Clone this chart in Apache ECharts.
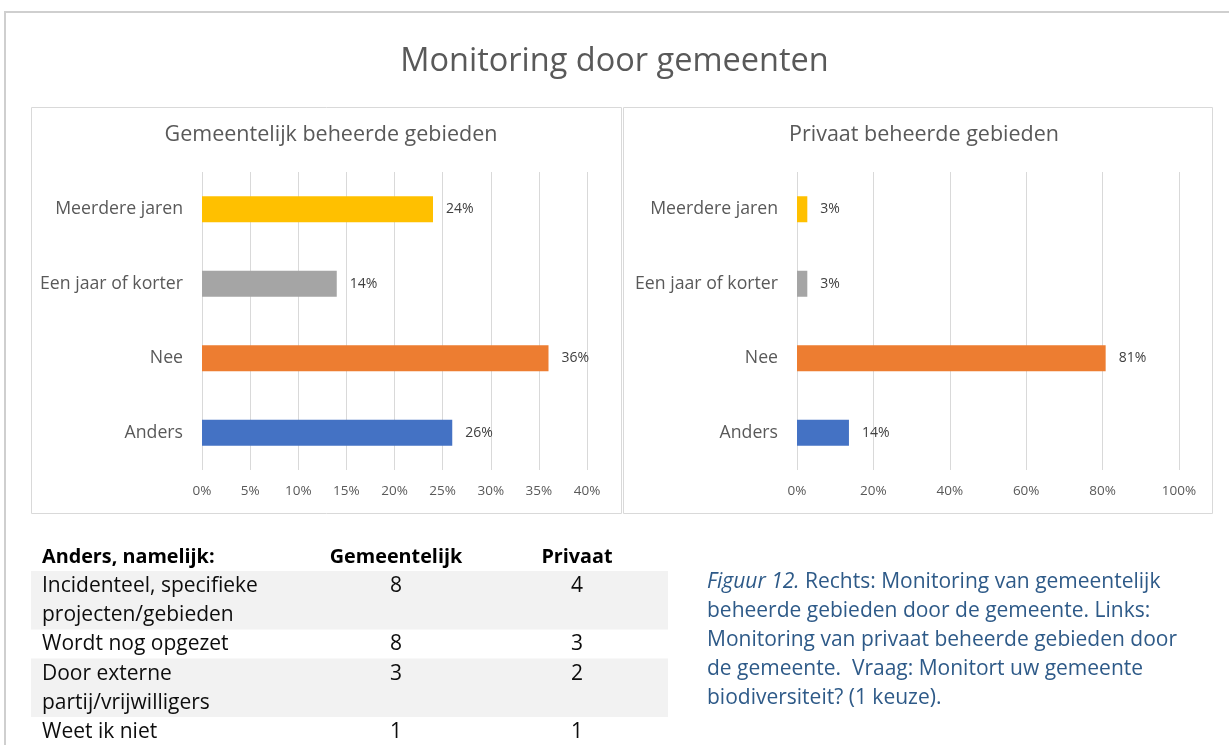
<!DOCTYPE html>
<html>
<head>
<meta charset="utf-8">
<script src="https://cdn.jsdelivr.net/npm/echarts@6/dist/echarts.min.js"></script>
<style>
  html, body { margin: 0; padding: 0; background: #fff; }
  #chart { width: 1229px; height: 745px; }
</style>
</head>
<body>
<div id="chart"></div>
<script>
  // categorieen (van boven naar beneden)
  const categories = ['Meerdere jaren', 'Een jaar of korter', 'Nee', 'Anders']
  const barColors = ['#FFC000', '#A5A5A5', '#ED7D31', '#4472C4']
  // percentages
  const gemeentelijk = [24, 14, 36, 26]
  const privaat = [2.7, 2.7, 80.8, 13.6]

  // tabel "Anders, namelijk"
  const tableHeader = ['Anders, namelijk:', 'Gemeentelijk', 'Privaat']
  const tableLabels = [
    ['Incidenteel, specifieke', 'projecten/gebieden'],
    ['Wordt nog opgezet'],
    ['Door externe', 'partij/vrijwilligers'],
    ['Weet ik niet']
  ]
  const tableGem = [8, 8, 3, 1]
  const tablePriv = [4, 3, 2, 1]

  const captionLines = [
    ['Figuur 12.', ' Rechts: Monitoring van gemeentelijk'],
    ['', 'beheerde gebieden door de gemeente. Links:'],
    ['', 'Monitoring van privaat beheerde gebieden door'],
    ['', 'de gemeente.  Vraag: Monitort uw gemeente'],
    ['', 'biodiversiteit? (1 keuze).']
  ]

  const FONT = 'Open Sans'
  const GREY = '#595959'

  let graphic = [
    // buitenrand
    { type: 'rect', shape: { x: 5, y: 12, width: 1240, height: 800 },
      style: { fill: 'none', stroke: '#cfcfcf', lineWidth: 2 }, silent: true },
    // panelen
    { type: 'rect', shape: { x: 31.5, y: 107.5, width: 590, height: 406 },
      style: { fill: 'none', stroke: '#d9d9d9', lineWidth: 1 }, silent: true },
    { type: 'rect', shape: { x: 623.5, y: 107.5, width: 589, height: 406 },
      style: { fill: 'none', stroke: '#d9d9d9', lineWidth: 1 }, silent: true }
  ]

  // tabel opbouwen
  const rowH = 29.2
  const tFont = '21px ' + FONT
  const hFont = 'bold 19.8px ' + FONT
  let y = 571
  graphic.push({ type: 'text', x: 42, y: 557,
    style: { text: tableHeader[0], font: hFont, fill: '#000', verticalAlign: 'middle' } })
  graphic.push({ type: 'text', x: 396, y: 557,
    style: { text: tableHeader[1], font: hFont, fill: '#000', align: 'center', verticalAlign: 'middle' } })
  graphic.push({ type: 'text', x: 577, y: 557,
    style: { text: tableHeader[2], font: hFont, fill: '#000', align: 'center', verticalAlign: 'middle' } })
  tableLabels.forEach((lines, i) => {
    const h = lines.length * rowH
    if (i % 2 === 0) {
      graphic.push({ type: 'rect', shape: { x: 31, y: y, width: 637, height: h },
        style: { fill: '#f2f2f2' }, silent: true })
    }
    lines.forEach((t, j) => {
      graphic.push({ type: 'text', x: 42, y: y + 15 + j * rowH,
        style: { text: t, font: tFont, fill: '#0d0d0d', verticalAlign: 'middle' } })
    })
    graphic.push({ type: 'text', x: 396, y: y + 15,
      style: { text: String(tableGem[i]), font: tFont, fill: '#0d0d0d', align: 'center', verticalAlign: 'middle' } })
    graphic.push({ type: 'text', x: 577, y: y + 15,
      style: { text: String(tablePriv[i]), font: tFont, fill: '#0d0d0d', align: 'center', verticalAlign: 'middle' } })
    y += h
  })

  // bijschrift
  captionLines.forEach((l, i) => {
    graphic.push({ type: 'text', x: 707, y: 582.5 + i * 28.8,
      style: {
        text: (l[0] ? '{it|' + l[0] + '}' : '') + l[1],
        font: '21px ' + FONT, fill: '#2E5A88', verticalAlign: 'middle',
        rich: { it: { fontStyle: 'italic', fontSize: 21, fontFamily: FONT, fill: '#2E5A88' } }
      } })
  })

  const pctLabel = {
    show: true, position: 'right', distance: 13,
    color: '#404040', fontSize: 14, fontFamily: FONT,
    formatter: p => Math.round(p.value) + '%'
  }

  const option = {
    animation: false,
    textStyle: { fontFamily: FONT },
    title: [
      { text: 'Monitoring door gemeenten', left: 'center', top: 40,
        textStyle: { fontSize: 32.5, fontWeight: 'normal', color: GREY, fontFamily: FONT } },
      { text: 'Gemeentelijk beheerde gebieden', left: 326, top: 119, textAlign: 'center',
        textStyle: { fontSize: 21.5, fontWeight: 'normal', color: GREY, fontFamily: FONT } },
      { text: 'Privaat beheerde gebieden', left: 919, top: 119, textAlign: 'center',
        textStyle: { fontSize: 21.5, fontWeight: 'normal', color: GREY, fontFamily: FONT } }
    ],
    grid: [
      { left: 202, width: 385, top: 172, height: 298 },
      { left: 797, width: 382, top: 172, height: 298 }
    ],
    xAxis: [0, 1].map(i => ({
      type: 'value', gridIndex: i, min: 0,
      max: i === 0 ? 40 : 100, interval: i === 0 ? 5 : 20,
      axisLine: { show: false }, axisTick: { show: false },
      splitLine: { lineStyle: { color: '#d9d9d9', width: 1 } },
      axisLabel: { formatter: '{value}%', color: GREY, fontSize: 13.5, margin: 14, fontFamily: FONT }
    })),
    yAxis: [0, 1].map(i => ({
      type: 'category', gridIndex: i, data: categories, inverse: true,
      axisLine: { show: false }, axisTick: { show: false },
      axisLabel: { color: GREY, fontSize: 17.7, margin: 19, fontFamily: FONT }
    })),
    series: [
      { type: 'bar', name: 'Gemeentelijk', xAxisIndex: 0, yAxisIndex: 0,
        data: gemeentelijk, barWidth: 26,
        itemStyle: { color: p => barColors[p.dataIndex] }, label: pctLabel },
      { type: 'bar', name: 'Privaat', xAxisIndex: 1, yAxisIndex: 1,
        data: privaat, barWidth: 26,
        itemStyle: { color: p => barColors[p.dataIndex] }, label: pctLabel }
    ],
    graphic: graphic
  }

  const chart = echarts.init(document.getElementById('chart'), null, { renderer: 'canvas' })
  chart.setOption(option)
</script>
</body>
</html>
